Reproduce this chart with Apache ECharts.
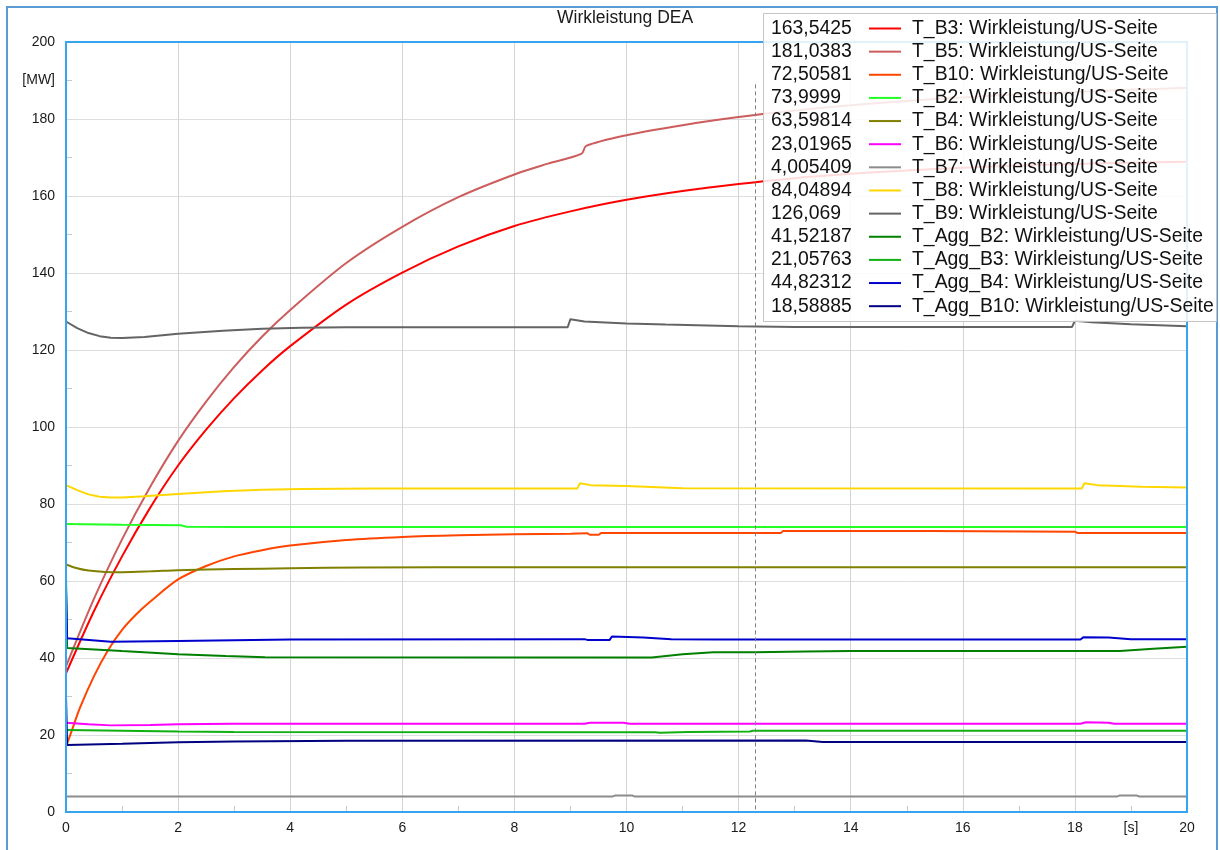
<!DOCTYPE html>
<html>
<head>
<meta charset="utf-8">
<script src="https://cdn.jsdelivr.net/npm/echarts@6/dist/echarts.min.js"></script>
<style>
html,body{margin:0;padding:0;background:#fff;}
#chart{width:1220px;height:850px;}
</style>
</head>
<body>
<div id="chart"></div>
<script>
// ---------- data ----------
const chartTitle = 'Wirkleistung DEA';
const seriesNames = [
  'T_B3: Wirkleistung/US-Seite',
  'T_B5: Wirkleistung/US-Seite',
  'T_B10: Wirkleistung/US-Seite',
  'T_B2: Wirkleistung/US-Seite',
  'T_B4: Wirkleistung/US-Seite',
  'T_B6: Wirkleistung/US-Seite',
  'T_B7: Wirkleistung/US-Seite',
  'T_B8: Wirkleistung/US-Seite',
  'T_B9: Wirkleistung/US-Seite',
  'T_Agg_B2: Wirkleistung/US-Seite',
  'T_Agg_B3: Wirkleistung/US-Seite',
  'T_Agg_B4: Wirkleistung/US-Seite',
  'T_Agg_B10: Wirkleistung/US-Seite'
];
const seriesColors = ['#ff0000','#cd5c5c','#ff4500','#22ff22','#808000','#ff00ff','#8c8c8c','#ffd700','#646464','#008000','#10b010','#0000cd','#000080'];
const cursorValues = [163.5425, 181.0383, 72.50581, 73.9999, 63.59814, 23.01965, 4.005409, 84.04894, 126.069, 41.52187, 21.05763, 44.82312, 18.58885];
const cursorTime = 12.29;
const cursorTop = 189;

const tB3 = [[0,36.0],[0.5,52.2],[1.0,66.4],[1.5,79.0],[2.0,90.0],[2.5,99.3],[3.0,107.5],[3.5,114.7],[4.0,121.0],[5.0,131.8],[6.0,140.1],[7.0,146.9],[8.0,152.2],[9.0,156.0],[10.0,159.0],[11.0,161.3],[12.0,163.1],[13.0,164.6],[14.0,165.75],[15.0,166.65],[16.0,167.35],[17.0,167.9],[18.0,168.3],[19.0,168.65],[20.0,168.9]];
const tB5 = [[0,37.8],[0.5,55.4],[1.0,70.8],[1.5,84.4],[2.0,96.4],[2.5,106.6],[3.0,115.6],[3.5,123.5],[4.0,130.4],[5.0,142.6],[6.0,152.0],[7.0,159.7],[8.0,165.6],[8.6,168.4],[9.2,171.0],[9.28,173.0],[10.0,175.8],[11.0,178.4],[12.0,180.5],[13.0,182.2],[14.0,183.6],[15.0,184.7],[16.0,185.6],[17.0,186.4],[18.0,187.0],[19.0,187.6],[20.0,188.1]];
const tB10 = [[0,17.0],[0.1,21.0],[0.25,27.1],[0.5,35.3],[0.75,42.0],[1.0,47.3],[1.25,51.3],[1.5,54.6],[2.0,60.4],[2.5,63.9],[3.0,66.4],[3.5,68.0],[4.0,69.2],[5.0,70.65],[6.0,71.45],[7.0,71.9],[8.0,72.15],[9.0,72.3],[9.3,72.4],[9.35,72.0],[9.5,72.0],[9.55,72.45],[12.75,72.5],[12.8,73.0],[18,72.8],[18.05,72.5],[20,72.5]];
const tB2 = [[0,74.8],[1,74.6],[2.05,74.5],[2.15,74.1],[3.1,74.0],[20,74.0]];
const tB4 = [[0,64.3],[0.2,63.3],[0.4,62.7],[0.7,62.35],[1.0,62.3],[1.5,62.5],[2,62.8],[3,63.1],[4,63.3],[5.3,63.5],[8,63.6],[20,63.6]];
const tB6 = [[0,23.2],[0.4,22.8],[0.8,22.5],[1.5,22.6],[2,22.8],[3,22.9],[9.25,22.9],[9.35,23.2],[9.95,23.2],[10.05,22.95],[11.3,22.9],[18.1,22.9],[18.2,23.3],[18.6,23.2],[18.7,22.95],[20,22.95]];
const tB7 = [[0,4.0],[9.75,4.0],[9.8,4.3],[10.1,4.3],[10.15,4.0],[18.75,4.0],[18.8,4.3],[19.1,4.3],[19.15,4.0],[20,4.0]];
const tB8 = [[0,84.9],[0.2,83.6],[0.4,82.5],[0.6,81.9],[0.8,81.7],[1.0,81.7],[1.4,82.0],[2.0,82.6],[2.8,83.3],[3.5,83.7],[4.2,83.9],[5.5,84.0],[9.12,84.0],[9.17,85.4],[9.36,84.9],[10,84.7],[11,84.1],[18.12,84.0],[18.17,85.4],[18.4,84.9],[19.2,84.5],[20,84.3]];
const tB9 = [[0,127.4],[0.2,125.7],[0.4,124.4],[0.6,123.6],[0.8,123.2],[1.0,123.1],[1.4,123.4],[2.0,124.2],[2.8,125.0],[3.5,125.5],[4.2,125.8],[5,125.9],[8.95,125.9],[9.0,128.0],[9.25,127.4],[10,126.9],[10.7,126.6],[12,126.2],[13,126.0],[17.95,126.0],[18.0,127.6],[18.3,127.2],[19,126.7],[20,126.2]];
const tAggB2 = [[0,61],[0.02,42.6],[1,41.8],[2,41.0],[2.85,40.5],[3.55,40.2],[10.45,40.1],[11,41.0],[11.55,41.5],[12.29,41.52],[13.2,41.7],[14,41.8],[18.8,41.8],[19.4,42.4],[20,42.9]];
const tAggB3 = [[0,21.3],[1,21.1],[2,20.9],[3,20.8],[10.5,20.7],[10.6,20.6],[11.1,20.8],[12.2,20.9],[12.25,21.1],[20,21.1]];
const tAggB4 = [[0,58],[0.02,45.1],[0.8,44.2],[2,44.4],[4,44.8],[9.25,44.9],[9.3,44.7],[9.7,44.7],[9.74,45.6],[10.3,45.3],[10.8,44.9],[11.6,44.8],[18.1,44.8],[18.15,45.4],[18.6,45.3],[19,44.9],[20,44.9]];
const tAggB10 = [[0,30],[0.02,17.4],[1,17.7],[2,18.1],[3,18.3],[5,18.5],[13.2,18.55],[13.5,18.2],[20,18.2]];

const seriesData = [tB3, tB5, tB10, tB2, tB4, tB6, tB7, tB8, tB9, tAggB2, tAggB3, tAggB4, tAggB10];
const smoothFlags = [true, true, true, false, true, false, false, false, false, false, false, false, false];

const xTicks = {min:0, max:20, interval:2};
const yTicks = {min:0, max:200, interval:20};
const xUnit = {value:19, text:'[s]'};
const yUnit = {value:190, text:'[MW]'};

// ---------- chart ----------
const font = '"Liberation Sans", Arial, sans-serif';
const chart = echarts.init(document.getElementById('chart'), null, {renderer:'canvas'});

const series = seriesNames.map((name, i) => {
  const s = {
    name: name,
    type: 'line',
    data: seriesData[i],
    xAxisIndex: 0,
    yAxisIndex: 0,
    showSymbol: false,
    symbol: 'none',
    smooth: smoothFlags[i] ? 0.3 : false,
    color: seriesColors[i],
    lineStyle: {width: 2, color: seriesColors[i]},
    animation: false,
    silent: true,
    z: 2
  };
  if (i === 0) {
    s.markLine = {
      silent: true,
      symbol: ['none','none'],
      label: {show:false},
      lineStyle: {type:[4,3], color:'#808080', width:1},
      data: [[{coord:[cursorTime, cursorTop]}, {coord:[cursorTime, 0]}]]
    };
  }
  return s;
});

const option = {
  backgroundColor: '#ffffff',
  animation: false,
  title: {
    text: chartTitle,
    left: 557, top: 9, padding: 0,
    textStyle: {fontFamily: font, fontSize: 17.5, fontWeight: 'normal', color: '#1a1a1a'}
  },
  grid: {
    left: 66, right: 33, top: 42, bottom: 38,
    show: false
  },
  xAxis: [
    {
      type: 'value', min: xTicks.min, max: xTicks.max, interval: xTicks.interval,
      axisLine: {show:false},
      axisTick: {show:false, inside:true},
      minorTick: {show:true, splitNumber:2, length:6, lineStyle:{color:'#c8c8c8', width:1}},
      splitLine: {show:true, showMinLine:false, showMaxLine:false, lineStyle:{color:'#d4d4d4', width:1}},
      axisLabel: {fontFamily: font, fontSize: 14, color:'#1a1a1a', margin: 9}
    },
    {
      type: 'value', min: xTicks.min, max: xTicks.max, interval: 1, position: 'bottom',
      axisLine: {show:false}, axisTick: {show:false}, splitLine: {show:false},
      axisLabel: {fontFamily: font, fontSize: 14, color:'#1a1a1a', margin: 9,
        formatter: v => (Math.abs(v - xUnit.value) < 1e-6 ? xUnit.text : '')}
    }
  ],
  yAxis: [
    {
      type: 'value', min: yTicks.min, max: yTicks.max, interval: yTicks.interval,
      axisLine: {show:false},
      axisTick: {show:false, inside:true},
      minorTick: {show:true, splitNumber:2, length:6, lineStyle:{color:'#c8c8c8', width:1}},
      splitLine: {show:true, showMinLine:false, showMaxLine:false, lineStyle:{color:'#dedede', width:1}},
      axisLabel: {fontFamily: font, fontSize: 14, color:'#1a1a1a', margin: 11}
    },
    {
      type: 'value', min: yTicks.min, max: yTicks.max, interval: 10, position: 'left',
      axisLine: {show:false}, axisTick: {show:false}, splitLine: {show:false},
      axisLabel: {fontFamily: font, fontSize: 14, color:'#1a1a1a', margin: 11,
        formatter: v => (Math.abs(v - yUnit.value) < 1e-6 ? yUnit.text : '')}
    }
  ],
  legend: {
    orient: 'vertical',
    left: 869, top: 17,
    padding: 0,
    itemGap: 0.14,
    itemWidth: 32, itemHeight: 2,
    icon: 'rect',
    selectedMode: false,
    z: 10,
    data: seriesNames,
    textStyle: {fontFamily: font, fontSize: 19.4, color:'#111', lineHeight: 23, padding:[0,0,0,6]}
  },
  graphic: [
    {type:'rect', z: 0, silent: true,
     shape: {x: 7, y: 7, width: 1210, height: 860},
     style: {fill: 'none', stroke: '#5b9bd5', lineWidth: 2}},
    {type:'rect', z: 3, silent: true,
     shape: {x: 66, y: 42, width: 1121, height: 770},
     style: {fill: 'none', stroke: '#36a4f0', lineWidth: 2}},
    {type:'rect', z: 5, silent: true,
     shape: {x: 763.5, y: 13.5, width: 453, height: 308},
     style: {fill: 'rgba(255,255,255,0.86)', stroke: '#c4c4c4', lineWidth: 1}},
    {type:'text', z: 10, silent: true, left: 771, top: 17,
     style: {text: cursorValues.map(v => String(v).replace('.', ',')).join('\n'),
             font: '19.4px ' + font, lineHeight: 23.14, fill: '#111'}}
  ],
  series: series
};
chart.setOption(option);
</script>
</body>
</html>
